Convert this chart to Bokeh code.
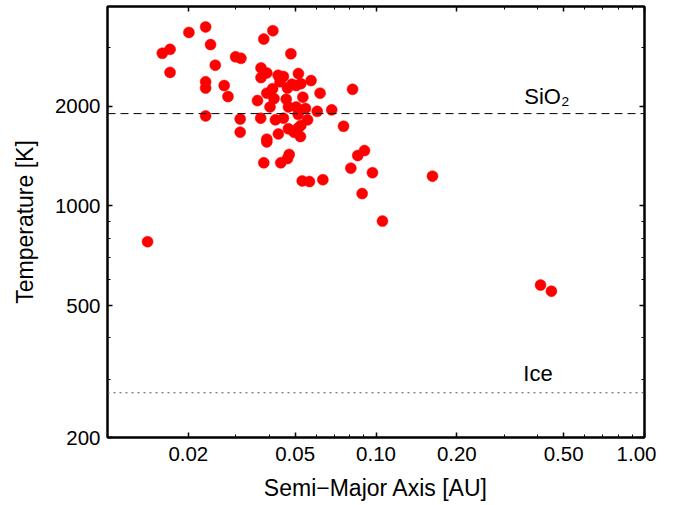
from bokeh.plotting import figure
from bokeh.models import FixedTicker, Span, Label, LogAxis, ColumnDataSource
from bokeh.embed import file_html
from bokeh.resources import INLINE

# ---- data ----
semi_major_axis = [
    0.0201, 0.0232, 0.0160, 0.0171, 0.0242, 0.0171, 0.0252, 0.0300, 0.0314, 0.0232,
    0.0232, 0.0272, 0.0281, 0.0232, 0.0312, 0.0312, 0.0382, 0.0413, 0.0482, 0.0373,
    0.0392, 0.0373, 0.0432, 0.0452, 0.0514, 0.0573, 0.0439, 0.0486, 0.0525, 0.0412,
    0.0392, 0.0468, 0.0504, 0.0619, 0.0818, 0.0362, 0.0417, 0.0463, 0.0534, 0.0403,
    0.0472, 0.0504, 0.0546, 0.0604, 0.0684, 0.0513, 0.0372, 0.0422, 0.0452, 0.0556,
    0.0525, 0.0513, 0.0472, 0.0495, 0.0757, 0.0433, 0.0523, 0.0392, 0.0392, 0.0475,
    0.0468, 0.0382, 0.0442, 0.0906, 0.0855, 0.0806, 0.0970, 0.0531, 0.0565, 0.0634,
    0.0888, 0.1057, 0.0141, 0.1623, 0.410, 0.450,
]
temperature = [
    3340, 3470, 2890, 2970, 3070, 2530, 2660, 2820, 2790, 2370,
    2270, 2310, 2140, 1870, 1830, 1670, 3190, 3380, 2880, 2610,
    2520, 2440, 2480, 2460, 2510, 2390, 2370, 2330, 2340, 2260,
    2190, 2270, 2310, 2190, 2250, 2080, 2110, 2100, 2130, 1990,
    1990, 1990, 1970, 1930, 1950, 1890, 1840, 1820, 1840, 1820,
    1750, 1720, 1710, 1670, 1740, 1650, 1620, 1590, 1560, 1430,
    1390, 1350, 1350, 1470, 1420, 1300, 1260, 1190, 1185, 1200,
    1090, 900, 780, 1230, 577, 553,
]

x_ticks = [0.02, 0.05, 0.1, 0.2, 0.5, 1.0]
x_tick_labels = ["0.02", "0.05", "0.10", "0.20", "0.50", "1.00"]
x_minor_ticks = [0.01, 0.03, 0.04, 0.06, 0.07, 0.08, 0.09, 0.3, 0.4, 0.6, 0.7, 0.8, 0.9]
y_ticks = [200, 500, 1000, 2000]
y_tick_labels = ["200", "500", "1000", "2000"]
y_minor_ticks = [300, 400, 600, 700, 800, 900, 3000, 4000]

sio2_temperature = 1900
ice_temperature = 273
sio2_text = "SiO\u2082"
ice_text = "Ice"
x_title = "Semi\u2212Major Axis [AU]"
y_title = "Temperature [K]"

FONT = "Liberation Sans"

p = figure(
    x_axis_type="log", y_axis_type="log",
    x_range=(0.01, 1.0), y_range=(200, 4000),
    frame_width=537, frame_height=431,
    min_border_left=107, min_border_right=12, min_border_top=6, min_border_bottom=60,
    output_backend="svg", toolbar_location=None,
    background_fill_color="white", border_fill_color="white",
)
p.grid.visible = False
p.outline_line_color = "black"
p.outline_line_width = 2

src = ColumnDataSource(dict(a=semi_major_axis, t=temperature))
p.scatter("a", "t", source=src, size=11, marker="circle",
          fill_color="#ff0000", line_color="#ff0000", line_width=0.5)

xt = FixedTicker(ticks=x_ticks, minor_ticks=x_minor_ticks)
yt = FixedTicker(ticks=y_ticks, minor_ticks=y_minor_ticks)


def style(ax):
    ax.axis_line_color = "black"
    ax.axis_line_width = 2
    ax.major_tick_in = 5
    ax.major_tick_out = 0
    ax.minor_tick_in = 3
    ax.minor_tick_out = 0
    ax.major_tick_line_width = 1.5
    ax.minor_tick_line_width = 1
    ax.major_tick_line_color = "black"
    ax.minor_tick_line_color = "black"
    ax.major_label_text_font = FONT
    ax.major_label_text_font_size = "20.5px"
    ax.major_label_text_color = "black"
    ax.axis_label_text_font = FONT
    ax.axis_label_text_font_size = "23px"
    ax.axis_label_text_font_style = "normal"
    ax.axis_label_text_color = "black"


xa = p.xaxis[0]
xa.ticker = xt
xa.major_label_overrides = {v: s for v, s in zip(x_ticks, x_tick_labels)}
xa.axis_label = x_title
style(xa)
xa.major_label_standoff = 9
xa.axis_label_standoff = 11

ya = p.yaxis[0]
ya.ticker = yt
ya.major_label_overrides = {v: s for v, s in zip(y_ticks, y_tick_labels)}
ya.axis_label = y_title
style(ya)
ya.major_label_standoff = 7
ya.axis_label_standoff = 14

top = LogAxis(ticker=xt, major_label_overrides={v: "" for v in x_ticks})
style(top)
top.major_label_standoff = 0
p.add_layout(top, "above")

right = LogAxis(ticker=yt, major_label_overrides={v: "" for v in y_ticks})
style(right)
right.major_label_standoff = 0
p.add_layout(right, "right")

p.add_layout(Span(location=sio2_temperature, dimension="width",
                  line_color="black", line_width=1, line_dash="8 5"))
p.add_layout(Span(location=ice_temperature, dimension="width",
                  line_color="#555555", line_width=1.2, line_dash="2 4"))

p.add_layout(Label(x=0.433, y=sio2_temperature, text=sio2_text, y_offset=5,
                   text_align="center", text_baseline="bottom",
                   text_font=FONT, text_font_size="22px", text_color="black"))
p.add_layout(Label(x=0.401, y=ice_temperature, text=ice_text, y_offset=7,
                   text_align="center", text_baseline="bottom",
                   text_font=FONT, text_font_size="22px", text_color="black"))

open("out.html", "w").write(file_html(p, INLINE))
